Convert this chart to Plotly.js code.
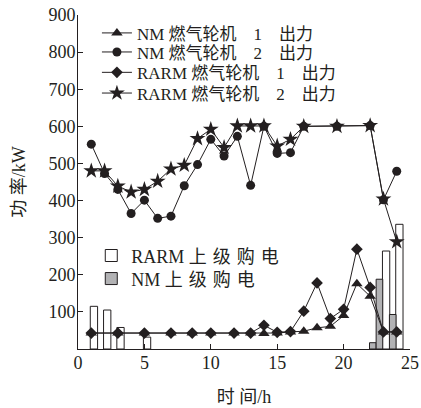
<!DOCTYPE html>
<html>
<head>
<meta charset="utf-8">
<script src="https://cdn.plot.ly/plotly-3.0.1.min.js"></script>
<style>html,body{margin:0;padding:0;background:#fff;}#chart{width:421px;height:408px;}</style>
</head>
<body>
<div id="chart"></div>
<script>
// hours for each series
const hoursUpper = [1,2,3,4,5,6,7,8,9,10,11,12,13,14,15,16,17,19.5,22,23,24];
const nmGT2 =      [552,473,430,365,401,352,358,440,497,565,520,573,441,600,527,529,600,600,602,402,479];
const rarmGT2 =    [480,480,439,423,430,452,485,495,567,592,543,601,601,601,547,565,600,600,602,404,289];

const hoursLower = [1,3,5,7,8.6,10,11.75,13,14,15,16,17,18,19,20,21,22,23,24];
const nmGT1 =      [43,43,43,43,43,43,43,43,42,43,46,48,57,61,90,176,142,46,46];
const rarmGT1 =    [43,43,43,43,43,43,43,43,64,45,47,102,178,82,107,269,166,46,46];

const rarmBuyHours = [1.2,2.2,3.2,5.2,23.2,24.2];
const rarmBuy =      [115,105,58,32,264,336];
const nmBuyHours =   [22.2,22.7,23.7];
const nmBuy =        [17,188,93];

const EM = '\u2003', TS = '\u2004', QS = '\u2005';
const names = {
  nm1: 'NM 燃气轮机' + EM + '1' + EM + '出力',
  nm2: 'NM 燃气轮机' + EM + '2' + EM + '出力',
  r1: 'RARM 燃气轮机' + EM + '1' + EM + '出力',
  r2: 'RARM 燃气轮机' + EM + '2' + EM + '出力',
  rb: 'RARM 上' + TS + '级' + TS + '购' + TS + '电',
  nb: 'NM 上' + TS + '级' + TS + '购' + TS + '电'
};
const xTitle = '时' + QS + '间/h';
const yTitle = '功' + QS + '率/kW';
const xTicks = [0,5,10,15,20,25];
const yTicks = [100,200,300,400,500,600,700,800,900];

const ink = '#231f20';
const fontFam = '"Liberation Serif", "Noto Sans CJK SC", serif';

const lineStyle = {color: ink, width: 1};
const traces = [
  {type:'bar', x: rarmBuyHours, y: rarmBuy, name: names.rb, width: 0.55, legend:'legend5',
   marker:{color:'#ffffff', line:{color: ink, width:1}}},
  {type:'bar', x: nmBuyHours, y: nmBuy, name: names.nb, width: 0.5, legend:'legend6',
   marker:{color:'#b2b2b4', line:{color: ink, width:1}}},
  {type:'scatter', mode:'lines+markers', x: hoursLower, y: nmGT1, name: names.nm1, legend:'legend',
   line: lineStyle, marker:{symbol:'triangle-up', size:10, color: ink}},
  {type:'scatter', mode:'lines+markers', x: hoursUpper, y: nmGT2, name: names.nm2, legend:'legend2',
   line: lineStyle, marker:{symbol:'circle', size:9, color: ink}},
  {type:'scatter', mode:'lines+markers', x: hoursLower, y: rarmGT1, name: names.r1, legend:'legend3',
   line: lineStyle, marker:{symbol:'diamond', size:9, color: ink}},
  {type:'scatter', mode:'lines+markers', x: hoursUpper, y: rarmGT2, name: names.r2, legend:'legend4',
   line: lineStyle, marker:{symbol:'star', size:12, color: ink}}
];

function leg(x, y, size) {
  return {
    x: x, y: y, xanchor: 'left', yanchor: 'middle',
    bgcolor: 'rgba(0,0,0,0)', borderwidth: 0,
    font: {size: size, family: fontFam, color: ink},
    itemwidth: 30
  };
}

const layout = {
  width: 421, height: 408,
  margin: {l: 78, r: 11, t: 15, b: 59},
  paper_bgcolor: '#fff', plot_bgcolor: '#fff',
  font: {family: fontFam, color: ink, size: 17},
  barmode: 'overlay',
  showlegend: true,
  xaxis: {
    range: [0, 25], tickvals: xTicks, ticktext: xTicks.map(String),
    showline: true, linecolor: ink, linewidth: 1, mirror: false,
    ticks: 'inside', ticklen: 5, tickcolor: ink, showgrid: false, zeroline: false,
    ticklabelstandoff: -3,
    tickfont: {size: 18, family: fontFam, color: ink},
    title: {text: xTitle, font: {size: 18, family: fontFam, color: ink}, standoff: 18}
  },
  yaxis: {
    range: [0, 900], tickvals: yTicks, ticktext: yTicks.map(String),
    showline: true, linecolor: ink, linewidth: 1, mirror: false,
    ticks: 'inside', ticklen: 5, tickcolor: ink, showgrid: false, zeroline: false,
    ticklabelstandoff: -2,
    tickfont: {size: 18, family: fontFam, color: ink},
    title: {text: yTitle, font: {size: 18, family: fontFam, color: ink}, standoff: 18}
  },
  legend:  leg(0.057, 0.945, 17),
  legend2: leg(0.057, 0.888, 17),
  legend3: leg(0.057, 0.827, 17),
  legend4: leg(0.057, 0.765, 17),
  legend5: leg(0.04, 0.279, 18),
  legend6: leg(0.04, 0.21, 18)
};

Plotly.newPlot('chart', traces, layout, {displayModeBar: false, staticPlot: true});
</script>
</body>
</html>
